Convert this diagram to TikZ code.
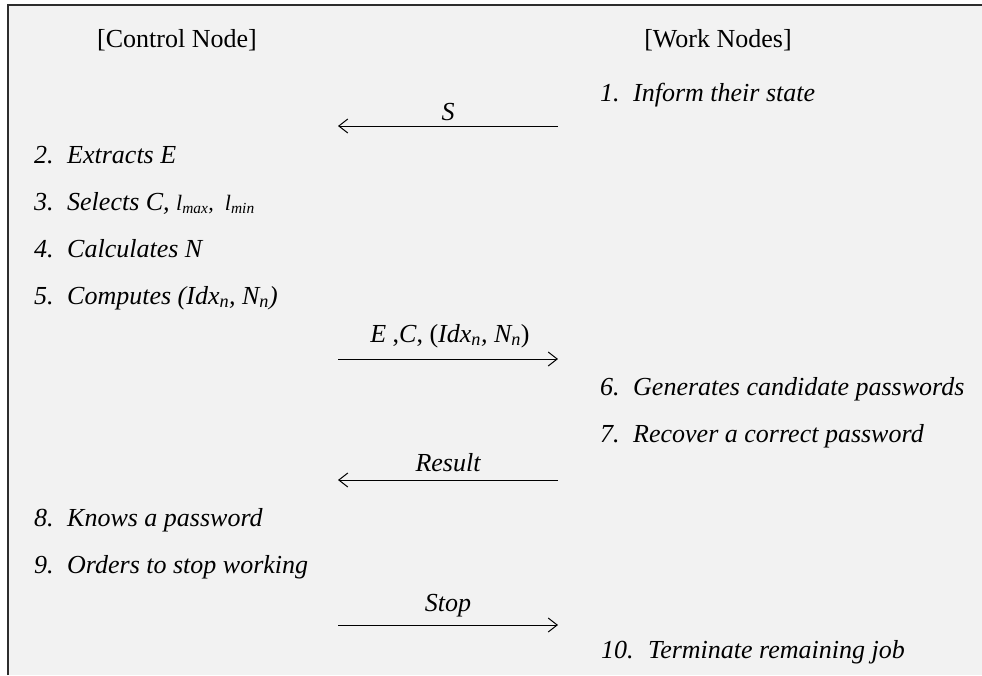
\documentclass[tikz,border=0pt]{standalone}
\usepackage{fontspec}
\setmainfont{Liberation Serif}
\usetikzlibrary{positioning}
\usetikzlibrary{arrows.meta}
\definecolor{panelgray}{RGB}{242,242,242}
\definecolor{framegray}{RGB}{45,45,45}
\newcommand{\stepno}[1]{\makebox[33pt][l]{#1}}
\tikzset{x=1pt, y=-1pt,
header/.style={ % column titles
font=\fontsize{26}{30}\selectfont,
anchor=base,
inner sep=0pt},
stepitem/.style={ % numbered actions
font=\fontsize{26}{30}\selectfont\itshape,
anchor=base west,
inner sep=0pt},
msglabel/.style={ % text over a message
font=\fontsize{26}{30}\selectfont,
anchor=base,
inner sep=0pt},
msgarrow/.style={ % message between the nodes
draw,
-{Straight Barb[length=9pt,width=14pt,line width=1pt]},
line width=1pt}}

\begin{document}
\begin{tikzpicture}
\useasboundingbox (0,0) rectangle (982,675);
\fill[panelgray] (8,5) rectangle (982,675);
\draw[framegray, line width=2pt] (8,675) -- (8,5) -- (982,5);

% column titles
\node[header] (ctrl) at (177,47) {[Control Node]};
\node[header] (work) at (718,47) {[Work Nodes]};

% control node side
\node[stepitem] (c2) at (34,163) {\stepno{2.}Extracts E};
\node[stepitem] (c3) at (34,210) {\stepno{3.}Selects C, {\fontsize{22}{24}\selectfont l\textsubscript{max}, \ l\textsubscript{min}}};
\node[stepitem] (c4) at (34,257) {\stepno{4.}Calculates N};
\node[stepitem] (c5) at (34,304) {\stepno{5.}Computes (Idx\textsubscript{n}, N\textsubscript{n})};
\node[stepitem] (c8) at (34,526) {\stepno{8.}Knows a password};
\node[stepitem] (c9) at (34,573) {\stepno{9.}Orders to stop working};

% work node side
\node[stepitem] (w1) at (600,101) {\stepno{1.}Inform their state};
\node[stepitem] (w6) at (600,395) {\stepno{6.}Generates candidate passwords};
\node[stepitem] (w7) at (600,442) {\stepno{7.}Recover a correct password};
\node[stepitem] (w10) at (601,658) {\makebox[47pt][l]{10.}Terminate remaining job};

% messages
\coordinate (sR) at (558,126);
\coordinate (sL) at (338,126);
\coordinate (jL) at (338,359);
\coordinate (jR) at (558,359);
\coordinate (rR) at (558,480);
\coordinate (rL) at (338,480);
\coordinate (tL) at (338,625);
\coordinate (tR) at (558,625);

\draw[msgarrow] (sR) -- (sL);
\node[msglabel] (sLab) at (448,120) {\itshape S};
\draw[msgarrow] (jL) -- (jR);
\node[msglabel] (jLab) at (450,342) {\textit{E} ,\textit{C}, (\textit{Idx\textsubscript{n}, N\textsubscript{n}})};
\draw[msgarrow] (rR) -- (rL);
\node[msglabel] (rLab) at (448,471) {\itshape Result};
\draw[msgarrow] (tL) -- (tR);
\node[msglabel] (tLab) at (448,611) {\itshape Stop};
\end{tikzpicture}
\end{document}
